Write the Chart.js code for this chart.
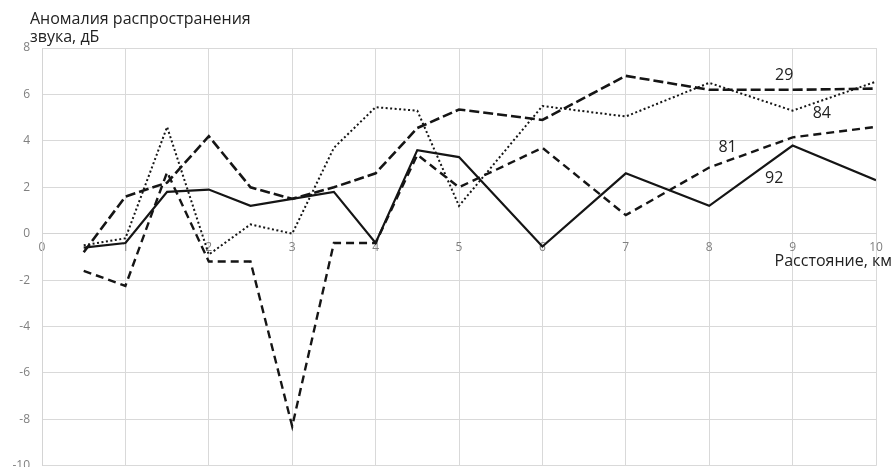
<!DOCTYPE html>
<html>
<head>
<meta charset="utf-8">
<script src="https://cdn.jsdelivr.net/npm/chart.js@4/dist/chart.umd.min.js"></script>
<style>
  html, body { margin: 0; padding: 0; background: #fff; overflow: hidden; }
  #wrap { position: relative; width: 893px; height: 485px; }
</style>
</head>
<body>
<div id="wrap"><canvas id="c"></canvas></div>
<script>
// Distance along the track, km
const distances = [0.5, 1, 1.5, 2, 2.5, 3, 3.5, 4, 4.5, 5, 6, 7, 8, 9, 10];

// Sound propagation anomaly, dB, per station
const series29 = [-0.8, 1.6, 2.2, 4.2, 2.0, 1.5, 2.0, 2.6, 4.55, 5.35, 4.9, 6.8, 6.2, 6.2, 6.25];
const series84 = [-0.5, -0.2, 4.6, -0.9, 0.4, 0.0, 3.7, 5.45, 5.3, 1.2, 5.5, 5.05, 6.5, 5.3, 6.55];
const series81 = [-1.6, -2.25, 2.65, -1.2, -1.2, -8.3, -0.4, -0.4, 3.4, 2.0, 3.7, 0.8, 2.85, 4.15, 4.6];
const series92 = [-0.6, -0.4, 1.8, 1.9, 1.2, 1.5, 1.8, -0.4, 3.6, 3.3, -0.55, 2.6, 1.2, 3.8, 2.3];

const seriesNames = ['29', '84', '81', '92'];
// Where each series name is written (km, dB)
const nameAnchors = [[8.9, 6.81], [9.35, 5.16], [8.22, 3.7], [8.78, 2.36]];

const yTicks = [-10, -8, -6, -4, -2, 0, 2, 4, 6, 8];
const xTicks = [0, 1, 2, 3, 4, 5, 6, 7, 8, 9, 10];

const titleLines = ['Аномалия распространения', 'звука, дБ'];
const xTitle = 'Расстояние, км';

const toPoints = vals => vals.map((v, i) => ({ x: distances[i], y: v }));
const ink = '#151515';

const textPlugin = {
  id: 'chartText',
  afterDraw(chart) {
    const ctx = chart.ctx;
    const xs = chart.scales.x, ys = chart.scales.y;
    ctx.save();
    ctx.fillStyle = '#222';
    ctx.font = '16px "Open Sans", sans-serif';
    ctx.textBaseline = 'middle';
    ctx.textAlign = 'left';
    ctx.fillText(titleLines[0], 30, 19);
    ctx.fillText(titleLines[1], 30, 37);

    ctx.textAlign = 'right';
    ctx.fillText(xTitle, 892, ys.getPixelForValue(0) + 28);

    ctx.textAlign = 'center';
    seriesNames.forEach((n, i) => {
      const [kx, ky] = nameAnchors[i];
      ctx.fillText(n, xs.getPixelForValue(kx), ys.getPixelForValue(ky));
    });
    ctx.restore();
  }
};

new Chart(document.getElementById('c'), {
  type: 'line',
  data: {
    datasets: [
      { label: seriesNames[0], data: toPoints(series29), borderColor: ink, borderWidth: 2.6, borderDash: [10, 4] },
      { label: seriesNames[1], data: toPoints(series84), borderColor: ink, borderWidth: 2, borderDash: [2, 2.5] },
      { label: seriesNames[2], data: toPoints(series81), borderColor: ink, borderWidth: 2.4, borderDash: [8, 5] },
      { label: seriesNames[3], data: toPoints(series92), borderColor: ink, borderWidth: 2.2 }
    ]
  },
  options: {
    responsive: true,
    maintainAspectRatio: false,
    animation: false,
    layout: { padding: { top: 48, right: 17, bottom: 8, left: 0 } },
    elements: {
      point: { radius: 0, hoverRadius: 0 },
      line: { tension: 0, borderCapStyle: 'butt', borderJoinStyle: 'miter', fill: false }
    },
    plugins: { legend: { display: false }, tooltip: { enabled: false } },
    scales: {
      x: {
        type: 'linear',
        position: { y: 0 },
        min: 0, max: 10,
        afterBuildTicks(scale) { scale.ticks = xTicks.map(v => ({ value: v })); },
        grid: { color: '#d9d9d9', lineWidth: 1, drawTicks: false },
        border: { color: '#d4d4d4' },
        ticks: { color: '#808080', font: { family: 'Open Sans', size: 12 }, padding: 7, maxRotation: 0 }
      },
      y: {
        type: 'linear',
        position: 'left',
        min: -10, max: 8,
        afterBuildTicks(scale) { scale.ticks = yTicks.map(v => ({ value: v })); },
        afterFit(scale) { scale.width = 42; },
        grid: { color: '#d9d9d9', lineWidth: 1, drawTicks: false },
        border: { color: '#d4d4d4' },
        ticks: { color: '#808080', font: { family: 'Open Sans', size: 12 }, padding: 12 }
      }
    }
  },
  plugins: [textPlugin]
});
</script>
</body>
</html>
